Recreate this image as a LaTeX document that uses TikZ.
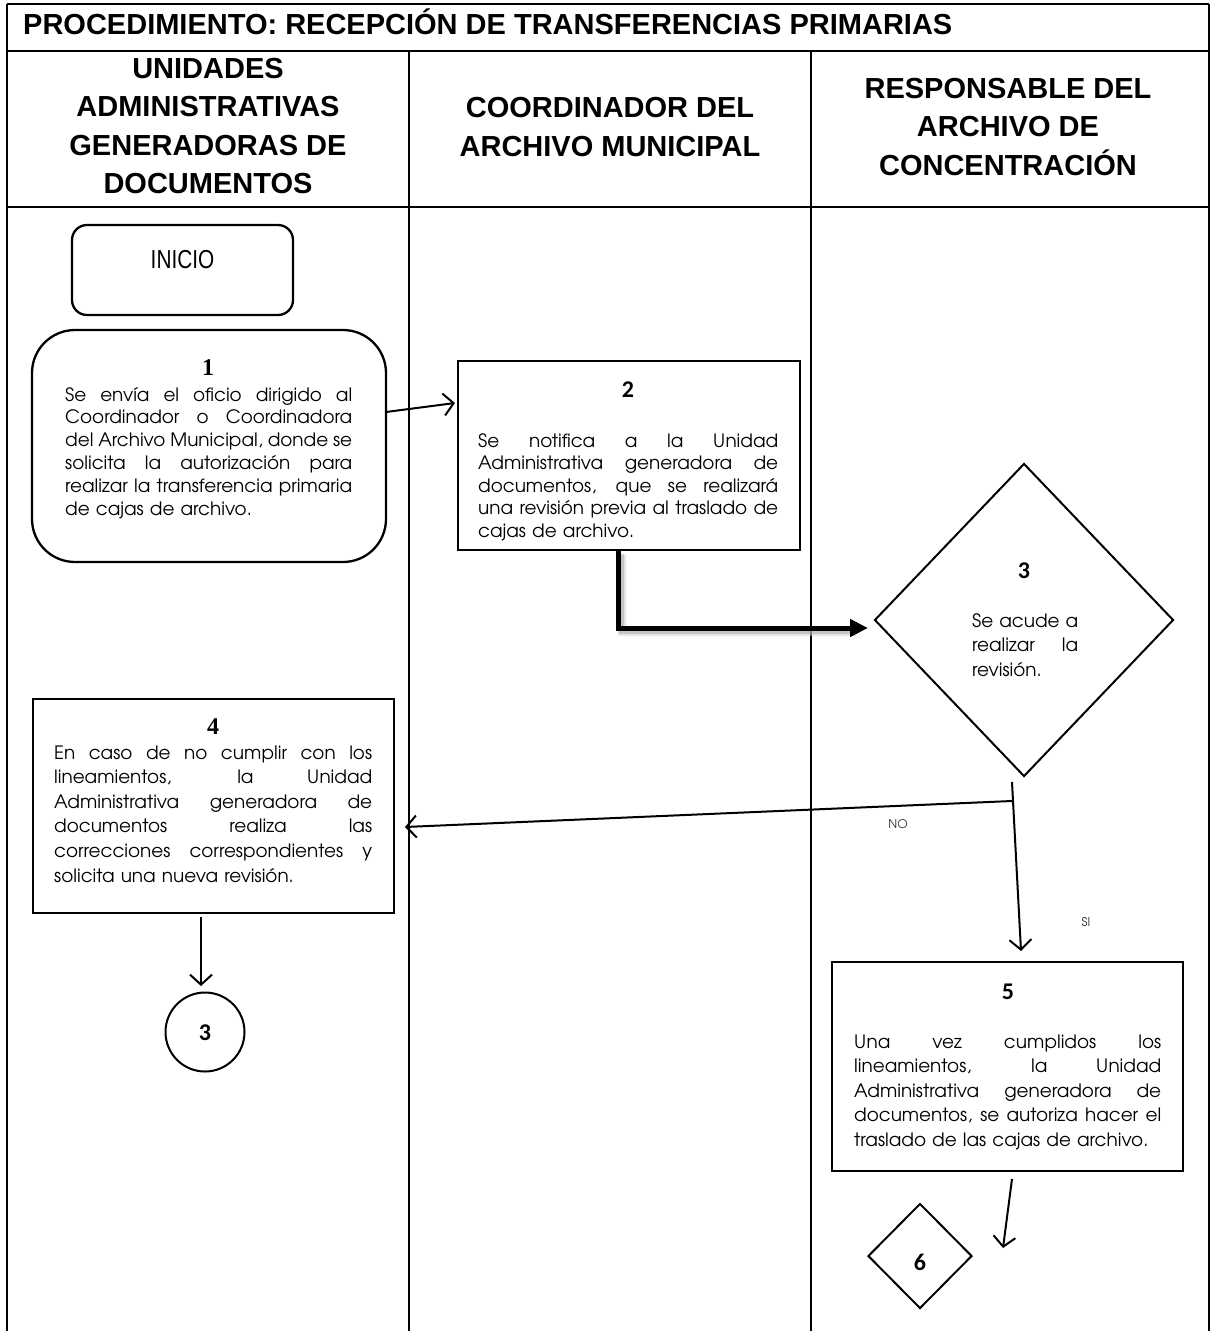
\documentclass[tikz,border=0pt]{standalone}
\usepackage{fontspec}
\setmainfont{TeX Gyre Adventor}
\newfontfamily\hdrfont{Liberation Sans}
\newfontfamily\serifnum{Liberation Serif}
\newfontfamily\sansnum{Carlito}
\usetikzlibrary{arrows.meta,shapes.geometric,calc}

% one justified line of a box text: word gaps share the free space
\newcommand\jl[1]{\hbox to \hsize{\spaceskip=\fontdimen2\font plus 1fil minus \fontdimen4\font\relax #1}}

\tikzset{
  lane/.style={line width=2.2pt},
  stepbox/.style={draw, line width=2.3pt, inner sep=0pt},
  numser/.style={font=\serifnum\bfseries\fontsize{24pt}{24pt}\selectfont, inner sep=0pt},
  numsans/.style={font=\sansnum\bfseries\fontsize{24pt}{24pt}\selectfont, inner sep=0pt},
  body/.style={font=\fontsize{18.4pt}{#1}\selectfont, align=left, inner sep=0pt, anchor=base west},
  hdr/.style={font=\hdrfont\bfseries\fontsize{29pt}{38.5pt}\selectfont, align=center, inner sep=0pt},
  flow/.style={line width=2pt, -{Straight Barb[length=10pt,width=22pt]}},
  small/.style={font=\fontsize{12pt}{12pt}\selectfont, text=black!80, inner sep=0pt},
}

\begin{document}
\begin{tikzpicture}[x=1pt,y=-1pt]
\useasboundingbox (0,0) rectangle (1210,1331);

% ---- table frame and swim lanes
\draw[lane] (7,4) -- (1209,4);
\draw[lane] (7,51) -- (1209,51);
\draw[lane] (7,207) -- (1209,207);
\draw[lane] (7,4) -- (7,1331);
\draw[lane] (1209,4) -- (1209,1331);
\draw[lane] (409,51) -- (409,1331);
\draw[lane] (811,51) -- (811,1331);

% ---- title and lane headers
\node[font=\hdrfont\bfseries\fontsize{29pt}{29pt}\selectfont, anchor=base west, inner sep=0pt] (title) at (23,34)
  {PROCEDIMIENTO: RECEPCIÓN DE TRANSFERENCIAS PRIMARIAS};
\node[hdr] (h1) at (208,126) {UNIDADES\\ADMINISTRATIVAS\\GENERADORAS DE\\DOCUMENTOS};
\node[hdr] (h2) at (610,127) {COORDINADOR DEL\\ARCHIVO MUNICIPAL};
\node[hdr] (h3) at (1008,127) {RESPONSABLE DEL\\ARCHIVO DE\\CONCENTRACIÓN};

% ---- start
\node[stepbox, rounded corners=15pt, minimum width=221pt, minimum height=90pt] (ini) at (182.5,270) {};
\node[font=\hdrfont\fontsize{26pt}{26pt}\selectfont, inner sep=0pt] (initxt) at (182.5,260) {\scalebox{0.8}[1]{INICIO}};

% ---- step 1
\node[stepbox, rounded corners=43pt, minimum width=354pt, minimum height=232pt] (b1) at (209,446) {};
\node[numser] (n1) at (208,368) {1};
\node[body=22.8pt, text width=287pt] (t1) at (65,401) {%
\jl{Se envía el oficio dirigido al}
\jl{Coordinador o Coordinadora}
\jl{del Archivo Municipal, donde se}
\jl{solicita la autorización para}
\jl{realizar la transferencia primaria}
de cajas de archivo.};

% ---- step 2
\node[stepbox, minimum width=342pt, minimum height=189pt] (b2) at (629,455.5) {};
\node[numsans] (n2) at (628,390) {2};
\node[body=22.5pt, text width=300pt] (t2) at (478,447) {%
\jl{Se notifica a la Unidad}
\jl{Administrativa generadora de}
\jl{documentos, que se realizará}
\jl{una revisión previa al traslado de}
cajas de archivo.};

% ---- step 3 (decision)
\node[diamond, draw, line width=2pt, minimum width=299pt, minimum height=313pt, inner sep=0pt] (d3) at (1024,620) {};
\node[numsans] (n3) at (1024,571) {3};
\node[body=24.5pt, text width=106pt] (t3) at (972,627) {%
\jl{Se acude a}
\jl{realizar la}
revisión.};

% ---- step 4
\node[stepbox, minimum width=361pt, minimum height=214pt] (b4) at (213.5,806) {};
\node[numser] (n4) at (213,727) {4};
\node[body=24.6pt, text width=318pt] (t4) at (54,759) {%
\jl{En caso de no cumplir con los}
\jl{lineamientos, la Unidad}
\jl{Administrativa generadora de}
\jl{documentos realiza las}
\jl{correcciones correspondientes y}
solicita una nueva revisión.};

% ---- connector to step 3
\node[circle, draw, line width=2pt, minimum size=79pt, inner sep=0pt] (c3) at (205,1032) {};
\node[numsans] (c3n) at (205,1033) {3};

% ---- step 5
\node[stepbox, minimum width=351pt, minimum height=209pt] (b5) at (1007.5,1066.5) {};
\node[numsans] (n5) at (1008,992) {5};
\node[body=24.5pt, text width=307pt] (t5) at (854,1048) {%
\jl{Una vez cumplidos los}
\jl{lineamientos, la Unidad}
\jl{Administrativa generadora de}
\jl{documentos, se autoriza hacer el}
traslado de las cajas de archivo.};

% ---- step 6
\node[diamond, draw, line width=2pt, minimum width=104pt, minimum height=105pt, inner sep=0pt] (d6) at (920,1256) {};
\node[numsans] (n6) at (920,1262) {6};

% ---- connectors
\coordinate (a1s) at (386,412);
\coordinate (a1e) at (455,403);
\draw[flow] (a1s) -- (a1e);

% thick elbow from step 2 to the decision, with its soft shadow
\coordinate (k0) at (618,551);
\coordinate (k1) at (618,628);
\coordinate (k2) at (868,628);
\draw[line width=8pt, black!20, opacity=0.5] ($(k0)+(4,4)$) -- ($(k1)+(4,4)$) -- ($(k2)+(-12,4)$);
\draw[line width=5pt, black!35, opacity=0.5] ($(k0)+(3,3)$) -- ($(k1)+(3,3)$) -- ($(k2)+(-12,3)$);
\draw[line width=5pt, -{Triangle[length=18pt,width=17pt]}] (k0) -- (k1) -- (k2);

% NO / SI branches
\coordinate (s0) at (1012,782);
\coordinate (sno) at (1012,801);
\coordinate (sno2) at (405,827);
\coordinate (ssi) at (1021,951);
\draw[flow] (s0) -- (ssi);
\draw[flow] (sno) -- (sno2);
\node[small] (no) at (898,824) {NO};
\node[small] (si) at (1086,922) {SI};

\coordinate (f4a) at (201,917);
\coordinate (f4b) at (201,986);
\draw[flow] (f4a) -- (f4b);

\coordinate (f5a) at (1012,1179);
\coordinate (f5b) at (1003,1248);
\draw[flow] (f5a) -- (f5b);
\end{tikzpicture}
\end{document}
